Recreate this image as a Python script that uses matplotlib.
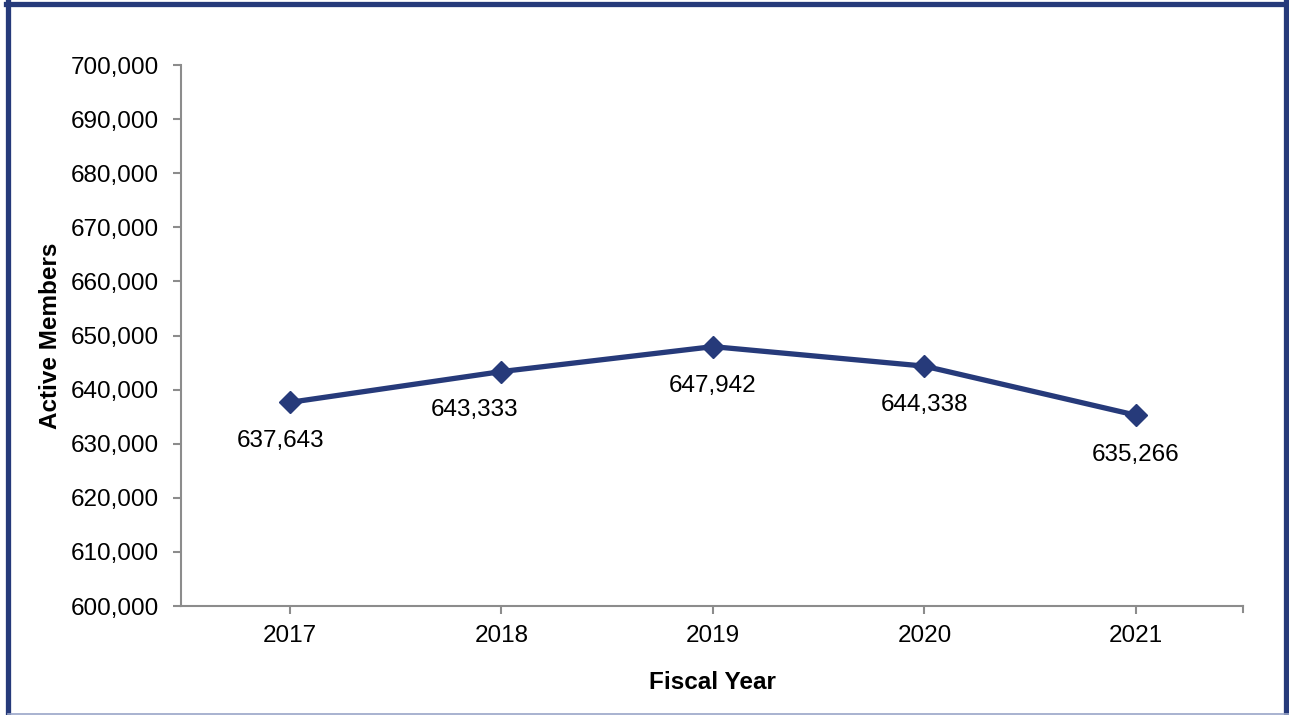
import matplotlib.pyplot as plt
from matplotlib.ticker import FuncFormatter, MultipleLocator
from matplotlib.lines import Line2D

plt.rcParams['font.family'] = ['Liberation Sans', 'DejaVu Sans']

years = ["2017", "2018", "2019", "2020", "2021"]
members = [637643, 643333, 647942, 644338, 635266]
# label offsets in points (dx, dy) so numbers sit below each marker
label_offsets = [(-7, -28), (-19, -28), (0, -28), (0, -28), (0, -29)]

navy = '#263a7a'
grey = '#8c8c8c'
fs = 17.5

fig = plt.figure(figsize=(12.89, 7.15), dpi=100)
ax = fig.add_axes([181 / 1289, 1 - 606 / 715, (1243 - 181) / 1289, (606 - 65) / 715])

x = list(range(len(years)))
ax.plot(x, members, color=navy, lw=3.8, marker='D', markersize=11.5, zorder=3)

for xi, v, (dx, dy) in zip(x, members, label_offsets):
    ax.annotate(f"{v:,}", (xi, v), xytext=(dx, dy), textcoords='offset points',
                ha='center', va='center', fontsize=fs)

ax.set_xlim(-0.515, 4.506)
ax.set_ylim(600000, 700000)
ax.yaxis.set_major_locator(MultipleLocator(10000))
ax.yaxis.set_major_formatter(FuncFormatter(lambda v, p: f"{int(v):,}"))
ax.set_xticks(x)
ax.set_xticklabels(years)
ax.tick_params(axis='both', labelsize=fs, color=grey, width=1.5, length=6)
ax.tick_params(axis='x', pad=8)
ax.tick_params(axis='y', pad=10)

for side in ['top', 'right']:
    ax.spines[side].set_visible(False)
for side in ['left', 'bottom']:
    ax.spines[side].set_color(grey)
    ax.spines[side].set_linewidth(1.5)

# small end cap at the right of the x axis
ax.plot([4.506, 4.506], [600000, 600000 - 1100], color=grey, lw=1.5, clip_on=False)

ax.set_xlabel("Fiscal Year", fontsize=fs, fontweight='bold', labelpad=17)
ax.set_ylabel("Active Members", fontsize=fs, fontweight='bold')
ax.yaxis.set_label_coords(-0.112, 0.5)

# frame around the figure: heavy navy on three sides, thin pale line at the bottom
W, H = 1289, 715
frame = [
    ([7.5 / W, 7.5 / W], [0, 1 - 2 / H], navy, 3.8),
    ([5.6 / W, 1], [1 - 3.5 / H, 1 - 3.5 / H], navy, 3.8),
    ([1 - 3 / W, 1 - 3 / W], [0, 1], navy, 3.8),
    ([7.5 / W, 1], [1.5 / H, 1.5 / H], '#9aa6c8', 1.2),
]
for xs, ys, c, w in frame:
    fig.lines.append(Line2D(xs, ys, transform=fig.transFigure, color=c, lw=w))

fig.savefig('out.png', dpi=100)
